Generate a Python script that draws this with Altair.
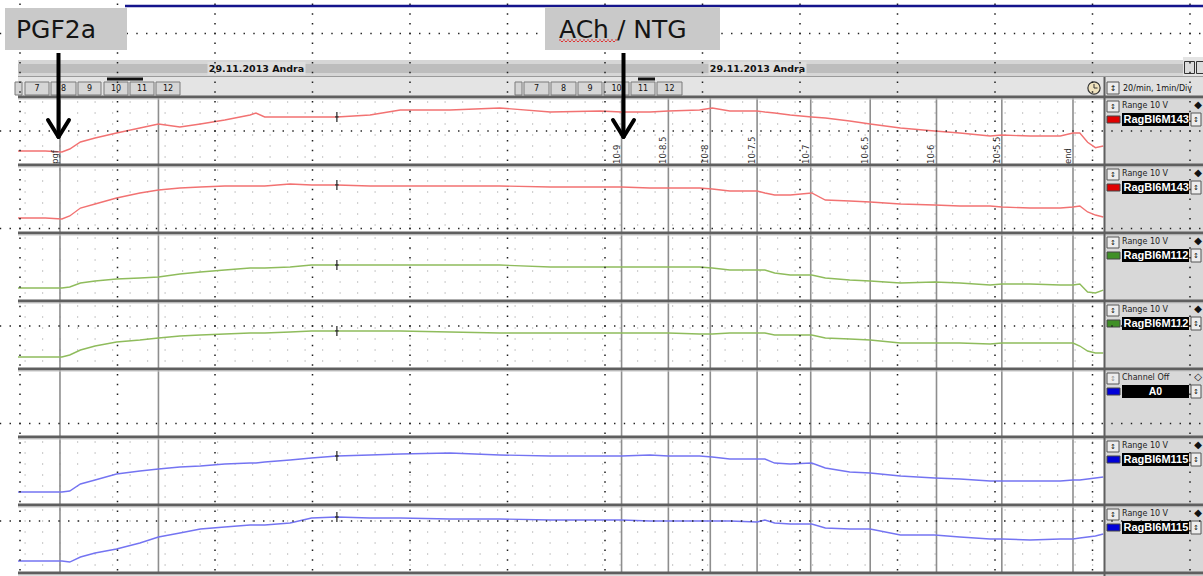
import altair as alt
import pandas as pd

# ---------------- values read from the recording ----------------
TIME_MIN = [-0.02, 0.26, 0.43, 0.51, 0.62, 0.77, 0.99, 1.23, 1.42, 1.64,
            1.85, 2.10, 2.36, 2.42, 2.51, 2.77, 2.99, 3.25, 3.59, 3.90,
            4.41, 4.92, 5.44, 5.95, 6.17, 6.46, 6.65, 6.97, 7.10, 7.28,
            7.56, 7.64, 7.74, 7.90, 8.12, 8.26, 8.51, 8.72, 9.03, 9.38,
            9.64, 9.95, 10.07, 10.36, 10.67, 10.80, 10.87, 10.95, 11.03, 11.11]

CH1_V = [2.21, 2.21, 2.06, 2.50, 3.53, 4.12, 4.85, 5.59, 6.18, 5.74,
         6.18, 6.76, 7.50, 7.79, 7.21, 7.21, 7.21, 7.21, 7.50, 8.24,
         8.24, 8.53, 7.94, 8.09, 7.94, 7.94, 8.09, 8.24, 8.53, 8.09,
         8.09, 7.94, 7.79, 7.50, 7.21, 7.06, 6.62, 6.18, 5.59, 5.15,
         4.85, 4.41, 4.56, 4.41, 4.41, 4.85, 4.85, 3.50, 2.70, 2.94]
CH2_V = [2.35, 2.35, 2.21, 2.65, 3.82, 4.41, 5.29, 6.03, 6.47, 6.76,
         6.91, 7.06, 7.06, 7.06, 7.06, 7.35, 7.21, 7.21, 7.06, 7.06,
         7.06, 7.06, 6.91, 6.91, 6.91, 6.76, 6.76, 6.76, 6.62, 6.32,
         6.32, 6.03, 5.74, 5.74, 6.03, 5.00, 4.85, 4.71, 4.41, 4.26,
         4.12, 4.12, 3.97, 3.82, 3.82, 3.97, 4.12, 3.24, 2.79, 2.50]
CH3_V = [2.06, 2.06, 2.06, 2.21, 2.79, 3.09, 3.38, 3.53, 3.68, 4.12,
         4.41, 4.71, 5.00, 5.00, 5.00, 5.15, 5.44, 5.44, 5.44, 5.44,
         5.44, 5.44, 5.15, 5.15, 5.15, 5.15, 5.15, 5.15, 5.00, 4.71,
         4.71, 4.71, 4.26, 3.97, 3.97, 3.53, 3.24, 3.09, 2.79, 2.94,
         2.79, 2.50, 2.65, 2.65, 2.50, 2.50, 2.65, 1.47, 1.32, 1.76]
CH4_V = [1.91, 1.91, 1.91, 2.21, 2.94, 3.53, 4.12, 4.41, 4.71, 5.00,
         5.15, 5.29, 5.44, 5.44, 5.44, 5.59, 5.74, 5.74, 5.74, 5.74,
         5.59, 5.44, 5.44, 5.44, 5.44, 5.44, 5.44, 5.29, 5.29, 5.44,
         5.44, 5.44, 5.15, 5.15, 5.15, 4.71, 4.56, 4.41, 3.97, 3.97,
         3.97, 3.82, 3.97, 3.97, 3.97, 3.97, 3.53, 2.79, 2.50, 2.50]
CH6_V = [2.06, 2.06, 2.06, 2.21, 3.24, 3.82, 4.71, 5.15, 5.44, 5.74,
         5.88, 6.18, 6.32, 6.32, 6.47, 6.76, 7.06, 7.35, 7.50, 7.65,
         7.79, 7.50, 7.35, 7.35, 7.35, 7.50, 7.35, 7.35, 7.21, 6.91,
         6.91, 6.91, 6.32, 6.18, 6.32, 5.59, 5.00, 4.85, 4.41, 4.12,
         3.97, 3.68, 3.68, 3.68, 3.68, 3.82, 3.82, 3.97, 4.12, 4.26]
CH7_V = [1.91, 1.91, 1.91, 1.76, 2.50, 3.09, 3.68, 4.56, 5.44, 6.03,
         6.62, 6.91, 7.21, 7.21, 7.21, 7.50, 8.24, 8.38, 8.24, 8.24,
         8.09, 8.09, 7.94, 7.94, 7.94, 7.79, 7.79, 7.79, 7.79, 7.79,
         7.65, 7.94, 7.50, 7.35, 7.35, 6.76, 6.62, 6.62, 5.74, 5.74,
         5.44, 5.15, 5.15, 5.00, 5.15, 5.15, 5.29, 5.44, 5.59, 5.88]

SERIES = [CH1_V, CH2_V, CH3_V, CH4_V, None, CH6_V, CH7_V]
CHANNEL_NAMES = ["RagBl6M143", "RagBl6M143", "RagBl6M112", "RagBl6M112",
                 "A0", "RagBl6M115", "RagBl6M115"]
CHANNEL_STATE = ["Range 10 V", "Range 10 V", "Range 10 V", "Range 10 V",
                 "Channel Off", "Range 10 V", "Range 10 V"]

EVENT_TIMES = [0.41, 1.42, 6.17, 6.65, 7.08, 7.56, 8.11, 8.72, 9.40, 10.07, 10.80]
EVENT_LABELS = ["pgf", "", "10-9", "10-8.5", "10-8", "10-7.5", "10-7",
                "10-6.5", "10-6", "10-5.5", "end"]
CURSOR_TIME = 3.25

HEADER_DATE = "29.11.2013 Andra"
BUTTON_LABELS = ["7", "8", "9", "10", "11", "12"]
SPEED_LABEL = "20/min, 1min/Div"
ANNOTATIONS = ["PGF2a", "ACh / NTG"]

for s in SERIES:
    if s is not None:
        assert len(s) == len(TIME_MIN), len(s)

# ---------------- styles / layout ----------------
TRACE_COLORS = ["#f27272", "#f27272", "#8fbc5c", "#8fbc5c", "#3b3bff", "#7474f2", "#7474f2"]
SWATCH_COLORS = ["#e00000", "#e00000", "#3f8f26", "#3f8f26", "#0000d8", "#0000d8", "#0000d8"]
W, H = 1203, 576
PL, PT, PR, PB = 18, 98, 100, 2
PW, PH = W - PL - PR, H - PT - PB
ROW_H = 68
UI = "DejaVu Sans"


def X(px):
    return px - PL


def Y(py):
    return py - PT


base = alt.Chart(pd.DataFrame({"_": [0]}))


def rect(x1, y1, x2, y2, fill, stroke=None, sw=1.0):
    kw = dict(fill=fill, opacity=1)
    if stroke:
        kw.update(stroke=stroke, strokeWidth=sw)
    else:
        kw.update(strokeWidth=0)
    return base.mark_rect(**kw).encode(
        x=alt.value(X(x1)), x2=alt.value(X(x2)),
        y=alt.value(Y(y1)), y2=alt.value(Y(y2)))


def rule(x1, y1, x2, y2, color, sw=1.0, dash=None, offset=None, cap="butt"):
    kw = dict(color=color, strokeWidth=sw, strokeCap=cap, opacity=1)
    if dash:
        kw["strokeDash"] = dash
    if offset is not None:
        kw["strokeDashOffset"] = offset
    return base.mark_rule(**kw).encode(
        x=alt.value(X(x1)), x2=alt.value(X(x2)),
        y=alt.value(Y(y1)), y2=alt.value(Y(y2)))


def text(x, y, s, size=8, color="#111", font=UI, weight="normal",
         align="left", baseline="middle"):
    return base.mark_text(fontSize=size, color=color, font=font,
                          fontWeight=weight, align=align,
                          baseline=baseline).encode(
        x=alt.value(X(x)), y=alt.value(Y(y)), text=alt.value(s))


XS = alt.Scale(domain=[-0.0205, 11.1077], nice=False, zero=False)
layers = []

# ---------------- header (chart window chrome) ----------------
layers.append(rect(1105, 97, 1203, 576, "#d8d8d8"))
layers.append(rect(18, 60, 1183, 76, "#d6d6d6"))
layers.append(rect(18, 64, 1183, 73, "#bdbdbd"))
for cx in (256.5, 757.5):
    layers.append(rect(cx - 49, 62, cx + 49, 75, "#dedede"))
    layers.append(text(cx, 68.5, HEADER_DATE, size=9.5, weight="bold", align="center"))
layers.append(rect(1183, 57, 1203, 76, "#e4e4e4"))
layers.append(rect(1184.5, 61.5, 1194.5, 73.5, "#dcdcdc", "#333"))
layers.append(rect(1196.5, 61.5, 1206, 73.5, "#dcdcdc", "#333"))
layers.append(rect(18, 76, 1203, 97, "#e4e4e4"))
layers.append(rule(18, 76.5, 1203, 76.5, "#9a9a9a", 1))

BUTTON_X = [[(25, 49), (51, 76), (78, 101), (104, 128), (130, 154), (156, 180)],
            [(524, 549), (551, 576), (578, 602), (604, 629), (631, 655), (657, 682)]]
for partial in ((15, 22), (515, 522)):
    layers.append(rect(partial[0], 82, partial[1], 95, "#d4d4d4", "#7a7a7a"))
for group in BUTTON_X:
    for (a, b), lab in zip(group, BUTTON_LABELS):
        layers.append(rect(a, 82, b, 95, "#d6d6d6", "#7a7a7a"))
        layers.append(text((a + b) / 2, 88.5, lab, size=8, align="center"))
layers.append(rect(107, 77.5, 143, 80.5, "#111"))
layers.append(rect(638, 77.5, 655, 80.5, "#111"))

# clock icon + speed box
layers.append(base.mark_point(shape="circle", size=150, filled=True, fill="#efe2bd",
                              stroke="#333", strokeWidth=1.2, opacity=1).encode(
    x=alt.value(X(1094)), y=alt.value(Y(88))))
layers.append(rule(1094, 88, 1094, 84, "#333", 1))
layers.append(rule(1094, 88, 1097.5, 88, "#333", 1))
layers.append(rect(1105, 77, 1203, 97, "#e0e0e0"))
layers.append(rect(1107, 82, 1119, 94, "#ededed", "#555"))
layers.append(text(1113, 88.5, "\u2195", size=8, align="center"))
layers.append(text(1123, 88.5, SPEED_LABEL, size=8))

# ---------------- light LabChart grid inside the panels ----------------
for k in range(7):
    if SERIES[k] is None:
        continue
    top = PT + ROW_H * k
    for off in (4, 15, 26, 37, 48, 59):
        layers.append(rule(18, top + off, 1103, top + off, "#a2a2a2", 1.2,
                           dash=[1.2, 16.3], offset=11))

# ---------------- event (comment) lines ----------------
events = pd.DataFrame({"t": EVENT_TIMES, "label": EVENT_LABELS})
layers.append(alt.Chart(events).mark_rule(color="#8e8e8e", strokeWidth=1.6).encode(
    x=alt.X("t:Q", scale=XS, axis=None),
    y=alt.value(0), y2=alt.value(PH)))

# ---------------- traces ----------------
for k, vals in enumerate(SERIES):
    if vals is None:
        continue
    top = PT + ROW_H * k
    df = pd.DataFrame({"t": TIME_MIN, "v": vals})
    ys = alt.Scale(domain=[0, 10], range=[Y(top + ROW_H), Y(top)], nice=False, zero=False)
    line = alt.Chart(df).mark_line(color=TRACE_COLORS[k], strokeWidth=1.4).encode(
        x=alt.X("t:Q", scale=XS, axis=None),
        y=alt.Y("v:Q", scale=ys, axis=None))
    cross = alt.Chart(df).transform_filter(alt.datum.t == CURSOR_TIME).mark_point(
        shape="M0,-1V1M-0.35,0H0.35", size=100, filled=False, stroke="#333",
        strokeWidth=1.3, opacity=1).encode(
        x=alt.X("t:Q", scale=XS, axis=None),
        y=alt.Y("v:Q", scale=ys, axis=None))
    layers.append(alt.layer(line, cross))

layers.append(alt.Chart(events).transform_filter(alt.datum.label != "").mark_text(
    angle=270, align="left", baseline="bottom", font=UI, fontSize=8.5, color="#333").encode(
    x=alt.X("t:Q", scale=XS, axis=None),
    y=alt.value(Y(164)), text="label:N"))

# ---------------- panel dividers ----------------
for b in (97, 165, 233, 301, 369, 437, 505, 573):
    layers.append(rect(18, b - 1.5, 1203, b + 1.5, "#5f5f5f"))
    layers.append(rect(18, b + 1.5, 1203, b + 2.5, "#c4c4c4"))
layers.append(rect(1103.5, 77, 1105.5, 576, "#5f5f5f"))

# ---------------- channel strip on the right ----------------
for k in range(7):
    top = PT + ROW_H * k
    off = SERIES[k] is None
    layers.append(rect(1107, top + 3, 1119, top + 14, "#ededed", "#555"))
    layers.append(text(1113, top + 8.5, "\u2195", size=7, align="center",
                       color="#999" if off else "#111"))
    layers.append(text(1122, top + 8, CHANNEL_STATE[k], size=8, color="#222"))
    layers.append(text(1198, top + 7, "\u25c7" if off else "\u25c6", size=10, align="center"))
    layers.append(rect(1107, top + 18, 1120, top + 25, SWATCH_COLORS[k], "#444"))
    layers.append(rect(1122, top + 15, 1189, top + 28, "#000"))
    if off:
        layers.append(text(1155.5, top + 21.8, CHANNEL_NAMES[k], size=10.5,
                           weight="bold", color="white", font="Liberation Sans",
                           align="center"))
    else:
        layers.append(text(1123.5, top + 21.8, CHANNEL_NAMES[k], size=11,
                           weight="bold", color="white", font="Liberation Sans"))
    layers.append(rect(1191, top + 15, 1201, top + 28, "#ededed", "#555"))
    layers.append(text(1196, top + 21.5, "\u2195", size=7, align="center"))

# ---------------- slide dot grid (overlay) ----------------
for i in range(13):
    gx = 20 + 97.5 * i
    layers.append(rule(gx, 0, gx, 576, "#1e1e1e", 1.5, dash=[1.4, 8.35], offset=6.2))
for j in range(6):
    gy = 33.5 + 97.5 * j
    layers.append(rule(0, gy, 1203, gy, "#1e1e1e", 1.5, dash=[1.4, 8.35], offset=0.2))

# ---------------- slide annotations ----------------
layers.append(rule(125, 6, 1203, 6, "#14148c", 2.5))
layers.append(rect(5, 8, 127, 50, "#c9c9c9"))
layers.append(text(16, 30, ANNOTATIONS[0], size=25, color="#151515"))
layers.append(rect(545, 7, 720, 50, "#c9c9c9"))
layers.append(text(559, 30, ANNOTATIONS[1], size=25, color="#151515"))
layers.append(rule(559, 40, 617, 40, "#e03030", 1, dash=[2, 2]))
layers.append(rule(559, 41.5, 617, 41.5, "#e03030", 1, dash=[2, 2], offset=2))
for ax in (58.5, 623.5):
    layers.append(rule(ax, 53, ax, 135, "#000", 4))
    layers.append(rule(ax - 10.5, 120, ax, 137, "#000", 4, cap="round"))
    layers.append(rule(ax + 10.5, 120, ax, 137, "#000", 4, cap="round"))

chart = alt.layer(*layers).resolve_scale(y="independent").properties(
    width=PW, height=PH,
    padding={"left": PL, "top": PT, "right": PR, "bottom": PB},
    autosize=alt.AutoSizeParams(type="none"),
    background="white",
).configure_view(strokeWidth=0)

chart.save("out.html", embed_options={"renderer": "svg", "actions": False})
